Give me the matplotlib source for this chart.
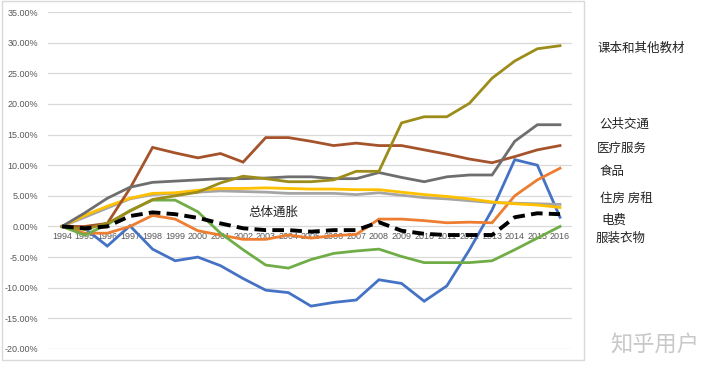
import matplotlib.pyplot as plt
from matplotlib.patches import Rectangle
from matplotlib.ticker import FuncFormatter

W, H = 720, 369

years = list(range(1994, 2017))

# cumulative price change vs. overall inflation, in percent
textbooks = [0, -0.5, 0.5, 2.5, 4.4, 5.0, 5.6, 7.1, 8.2, 7.8, 7.3, 7.3, 7.6, 9.0, 9.0,
             16.9, 17.9, 17.9, 20.1, 24.2, 27.0, 29.0, 29.5]
transport = [0, 2.2, 4.6, 6.4, 7.2, 7.4, 7.6, 7.8, 7.8, 7.9, 8.1, 8.1, 7.8, 7.8, 8.8,
             8.0, 7.3, 8.1, 8.4, 8.4, 13.9, 16.6, 16.6]
medical = [0, 0, 0.5, 6.2, 12.9, 12.0, 11.2, 11.9, 10.5, 14.5, 14.5, 13.9, 13.2, 13.6, 13.2,
           13.2, 12.5, 11.8, 11.0, 10.4, 11.4, 12.5, 13.2]
food = [0, 1.8, 3.3, 4.6, 5.4, 5.5, 5.9, 6.2, 6.2, 6.3, 6.2, 6.1, 6.1, 6.0, 6.0,
        5.6, 5.2, 4.9, 4.5, 4.0, 3.7, 3.5, 3.1]
housing = [0, 1.5, 3.0, 4.5, 5.2, 5.4, 5.6, 5.8, 5.7, 5.6, 5.4, 5.4, 5.4, 5.2, 5.5,
           5.1, 4.7, 4.5, 4.2, 3.9, 3.8, 3.7, 3.6]
electricity = [0, -1.1, -1.1, 0, 1.8, 1.2, -0.7, -1.4, -2.1, -2.1, -1.4, -1.9, -1.5, -1.3, 1.2,
               1.2, 0.95, 0.6, 0.7, 0.6, 5.0, 7.6, 9.5]
other = [0, -1.4, 0.3, 2.6, 4.3, 4.3, 2.4, -1.1, -3.8, -6.3, -6.8, -5.4, -4.4, -4.0, -3.7,
         -4.9, -5.9, -5.9, -5.9, -5.6, -3.8, -1.9, 0]
clothing = [0, -0.3, -3.2, 0.1, -3.7, -5.6, -5.0, -6.4, -8.5, -10.4, -10.8, -13.0, -12.4, -12.0, -8.7,
            -9.3, -12.2, -9.7, -3.8, 2.7, 10.9, 10.0, 1.5]
overall = [0, -0.3, 0, 1.7, 2.3, 2.0, 1.4, 0.5, -0.3, -0.6, -0.6, -0.85, -0.6, -0.6, 0.7,
           -0.7, -1.2, -1.4, -1.4, -1.4, 1.5, 2.15, 2.0]

side_labels = ["课本和其他教材", "公共交通", "医疗服务", "食品", "住房 房租", "电费", "服装衣物"]
side_pos = [(597, 48), (599, 124), (597, 148), (600, 171), (600, 198), (601, 220), (596, 238)]

cjk = ["Noto Sans CJK SC", "DejaVu Sans"]

fig = plt.figure(figsize=(W / 100, H / 100), dpi=100)
fig.patch.set_facecolor("white")

# chart frame
fig.patches.append(Rectangle((2 / W, 1 - 360 / H), 582 / W, 359 / H,
                             transform=fig.transFigure, fill=False,
                             edgecolor="#d9d9d9", lw=1))

ax = fig.add_axes([48 / W, 1 - 349 / H, (572 - 48) / W, (349 - 12) / H])

series = [
    (clothing, "#4472c4"),
    (electricity, "#ed7d31"),
    (housing, "#a5a5a5"),
    (food, "#ffc000"),
    (other, "#70ad47"),
    (medical, "#a5532a"),
    (transport, "#6e6e6e"),
    (textbooks, "#9c8c1a"),
]
for vals, col in series:
    ax.plot(years, [v / 100 for v in vals], color=col, lw=2.0, solid_joinstyle="miter", zorder=3)

ax.plot(years, [v / 100 for v in overall], color="black", lw=2.8,
        dashes=(3, 1.6), zorder=4)

ax.set_xlim(1993.38, 2016.53)
ax.set_ylim(-0.20, 0.35)
ax.set_yticks([i * 0.05 for i in range(-4, 8)])
ax.yaxis.set_major_formatter(FuncFormatter(lambda v, p: f"{v * 100:.2f}%"))
ax.grid(axis="y", color="#d9d9d9", lw=0.9)
ax.set_axisbelow(True)

ax.set_xticks(years)
ax.set_xticklabels([str(y) for y in years])
ax.spines["bottom"].set_position(("data", 0))
for s in ["top", "right", "left", "bottom"]:
    ax.spines[s].set_visible(False)
ax.tick_params(axis="both", length=0, labelsize=6.5, labelcolor="#595959")
ax.tick_params(axis="x", pad=4)
ax.tick_params(axis="y", pad=7)
for lab in ax.get_xticklabels() + ax.get_yticklabels():
    lab.set_family("Liberation Sans")

fig.text(248 / W, 1 - 212 / H, "总体通胀", family=cjk, fontsize=9, color="#222222",
         ha="left", va="center")

for lab, (px, py) in zip(side_labels, side_pos):
    fig.text(px / W, 1 - py / H, lab, family=cjk, fontsize=9, color="#222222",
             ha="left", va="center")

fig.text(610 / W, 1 - 345 / H, "知乎用户", family=cjk, fontsize=16,
         color="#c8c8c8", ha="left", va="center")

fig.savefig("out.png", dpi=100)
